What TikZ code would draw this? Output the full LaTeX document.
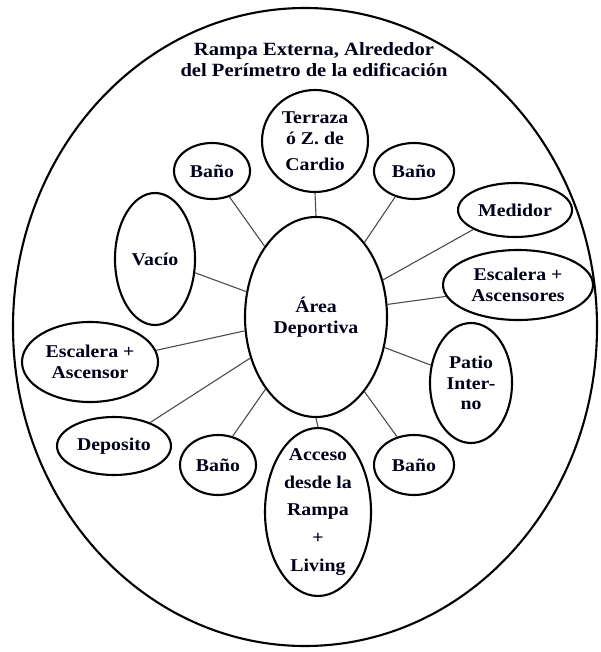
\documentclass[tikz,border=0pt]{standalone}
\usepackage{fontspec}
\setmainfont{Liberation Serif}[FakeStretch=1.1]
\usetikzlibrary{shapes.geometric}
\begin{document}
\begin{tikzpicture}[x=1pt,y=-1pt,
  room/.style={ellipse, draw=black, line width=2.1pt, inner sep=0pt},
  dims/.style 2 args={minimum width=#1, minimum height=#2},
  rtext/.style={align=center, inner sep=0pt, text=black!90!blue,
    font=\bfseries\fontsize{18}{20.5}\selectfont},
  link/.style={draw=black!70, line width=1.1pt}]
\useasboundingbox (0,0) rectangle (600,652);

% outer ramp around the building
\node[room, dims={584pt}{638pt}] (outer) at (305,327) {};
\node[rtext, font=\bfseries\fontsize{18.7}{21}\selectfont] (title) at (314,60)
  {Rampa Externa, Alrededor\\del Perímetro de la edificación};

% central sports area
\node[room, dims={142pt}{200pt}] (ctr) at (316,317) {};
\node[rtext] (ctr-t) at (ctr) {Área\\Deportiva};

% surrounding rooms
\node[room, dims={106pt}{102pt}] (ter) at (315,141) {};
\node[room, dims={76pt}{56pt}]   (btl) at (212,171) {};
\node[room, dims={80pt}{56pt}]   (btr) at (414,171) {};
\node[room, dims={80pt}{132pt}]  (vac) at (155,259) {};
\node[room, dims={114pt}{54pt}]  (med) at (515,210) {};
\node[room, dims={150pt}{70pt}]  (escr) at (518,285) {};
\node[room, dims={82pt}{120pt}]  (pat) at (471,383) {};
\node[room, dims={136pt}{80pt}]  (escl) at (90,362) {};
\node[room, dims={114pt}{58pt}]  (dep) at (114,446) {};
\node[room, dims={76pt}{60pt}]   (bbl) at (218,465) {};
\node[room, dims={106pt}{168pt}] (acc) at (318,512) {};
\node[room, dims={80pt}{60pt}]   (bbr) at (414,465) {};

\node[rtext] (ter-t) at (ter) {Terraza\\ó Z. de\\[5.5pt]Cardio};
\node[rtext] (btl-t) at (btl) {Baño};
\node[rtext] (btr-t) at (btr) {Baño};
\node[rtext] (vac-t) at (vac) {Vacío};
\node[rtext] (med-t) at (med) {Medidor};
\node[rtext] (escr-t) at (escr) {Escalera +\\Ascensores};
\node[rtext] (pat-t) at (pat) {Patio\\Inter-\\no};
\node[rtext] (escl-t) at (escl) {Escalera +\\Ascensor};
\node[rtext] (dep-t) at (dep) {Deposito};
\node[rtext] (bbl-t) at (bbl) {Baño};
\node[rtext, font=\bfseries\fontsize{18}{27.7}\selectfont] (acc-t) at (acc)
  {Acceso\\desde la\\Rampa\\+\\Living};
\node[rtext] (bbr-t) at (bbr) {Baño};

% links from the sports area to each room
\draw[link] (ctr.90) -- (ter.270);
\draw[link] (ctr.126.4) -- (btl.-56.3);
\draw[link] (ctr.160.6) -- (vac.-19.3);
\draw[link] (ctr.191.6) -- (escl.10);
\draw[link] (ctr.212.3) -- (dep.33.7);
\draw[link] (ctr.235.1) -- (bbl.63.4);
\draw[link] (ctr.270) -- (acc.90);
\draw[link] (ctr.303.9) -- (bbr.121.3);
\draw[link] (ctr.336.4) -- (pat.156.3);
\draw[link] (ctr.10) -- (escr.189.3);
\draw[link] (ctr.29.5) -- (med.205.5);
\draw[link] (ctr.57.2) -- (btr.234.9);
\end{tikzpicture}
\end{document}
